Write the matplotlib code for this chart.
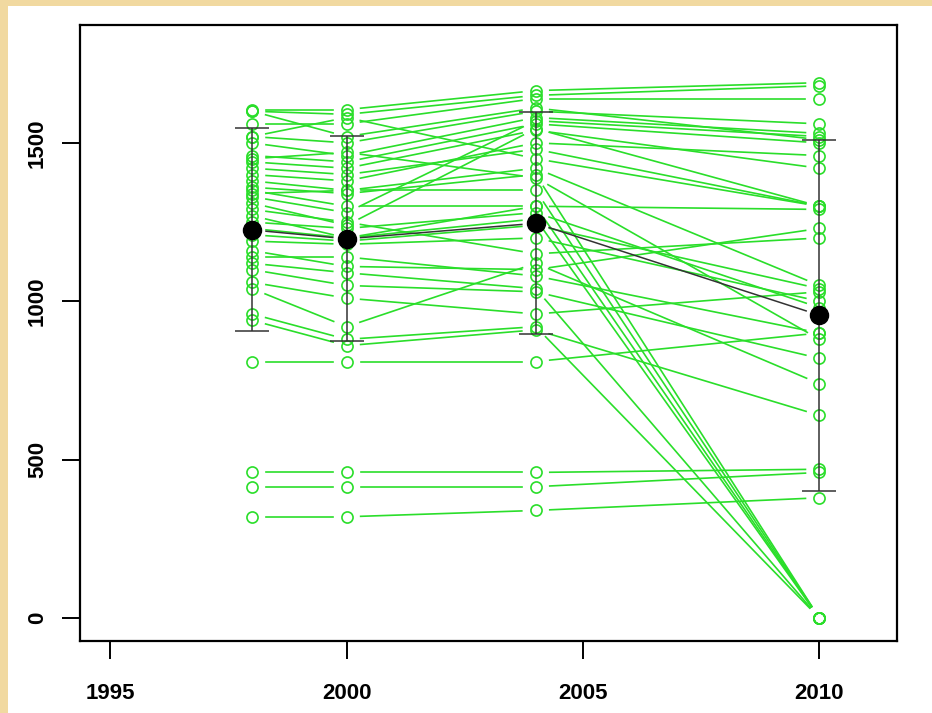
import numpy as np
import matplotlib
matplotlib.use("Agg")
import matplotlib.pyplot as plt
from matplotlib.patches import Rectangle

years = [1998, 2000, 2004, 2010]

# one value per individual
y1998 = [1605, 1600, 1560, 1520, 1500, 1460, 1440, 1420, 1400, 1380, 1360, 1350,
         1340, 1330, 1310, 1290, 1270, 1250, 1230, 1210, 1190, 1160, 1140, 1120,
         1100, 1060, 1040, 960, 940, 810, 460, 415, 320, 1600, 1520, 1450]
y2000 = [1605, 1590, 1560, 1500, 1460, 1440, 1420, 1400, 1380, 1350, 1340, 1300,
         1350, 1280, 1240, 1250, 1200, 1230, 1200, 1190, 1180, 1110, 1140, 1090,
         1050, 1010, 920, 880, 860, 810, 460, 415, 320, 1520, 1580, 1470]
y2004 = [1665, 1650, 1640, 1600, 1580, 1560, 1540, 1480, 1500, 1420, 1400, 1300,
         1350, 1570, 1545, 1150, 1300, 1280, 1260, 1240, 1200, 1100, 1080, 1040,
         1030, 960, 1120, 920, 910, 810, 460, 415, 340, 1610, 1450, 1390]
y2010 = [1690, 1680, 1640, 1560, 1530, 1500, 1420, 1300, 1460, 1050, 0, 1290,
         0, 1520, 1300, 1200, 0, 980, 0, 1040, 1000, 1230, 900, 0,
         820, 1030, 740, 0, 640, 900, 470, 460, 380, 1510, 1300, 880]

data = np.array([y1998, y2000, y2004, y2010], dtype=float)
means = data.mean(axis=1)
sds = data.std(axis=1, ddof=1)

green = "#2ade2a"
beige = "#f1d9a0"

fig = plt.figure(figsize=(9.32, 7.13), dpi=100)
fig.patch.set_facecolor(beige)
fig.patches.append(Rectangle((8 / 932, 0), 1, 1 - 6 / 713, transform=fig.transFigure,
                             facecolor="white", edgecolor="none", zorder=-10))

ax = fig.add_axes([80 / 932, 1 - 641 / 713, 817 / 932, 616 / 713])
ax.set_xlim(1994.36, 2011.64)
ax.set_ylim(-72, 1872)


def gapped(xs, ys, gap, **kw):
    # lines with a gap round each point, like R's type="b"
    pts = ax.transData.transform(np.column_stack([xs, ys]))
    inv = ax.transData.inverted()
    for p, q in zip(pts[:-1], pts[1:]):
        d = q - p
        L = np.hypot(*d)
        if L <= 2 * gap:
            continue
        u = d / L
        seg = inv.transform([p + u * gap, q - u * gap])
        ax.plot(seg[:, 0], seg[:, 1], **kw)


for i in range(data.shape[1]):
    gapped(years, data[:, i], 14, color=green, lw=1.2, zorder=2)
    ax.plot(years, data[:, i], ls="none", marker="o", ms=8, mfc="none",
            mec=green, mew=1.2, zorder=2)

ax.errorbar(years, means, yerr=sds, fmt="none", ecolor="#333333", elinewidth=1.1,
            capsize=12, capthick=1.1, zorder=3)
gapped(years, means, 14, color="#333333", lw=1.1, zorder=3)
ax.plot(years, means, ls="none", marker="o", ms=13, color="black", zorder=4)

ax.set_xticks([1995, 2000, 2005, 2010])
ax.set_yticks([0, 500, 1000, 1500])
for s in ax.spines.values():
    s.set_linewidth(1.6)
ax.tick_params(length=13, width=1.4, labelsize=16)
ax.tick_params(axis="x", pad=17)
ax.tick_params(axis="y", pad=10)
for lab in ax.get_xticklabels() + ax.get_yticklabels():
    lab.set_family("Liberation Sans")
    lab.set_fontweight("bold")
for lab in ax.get_yticklabels():
    lab.set_rotation(90)
    lab.set_va("center")

fig.savefig("out.png", dpi=100, facecolor=fig.get_facecolor())
